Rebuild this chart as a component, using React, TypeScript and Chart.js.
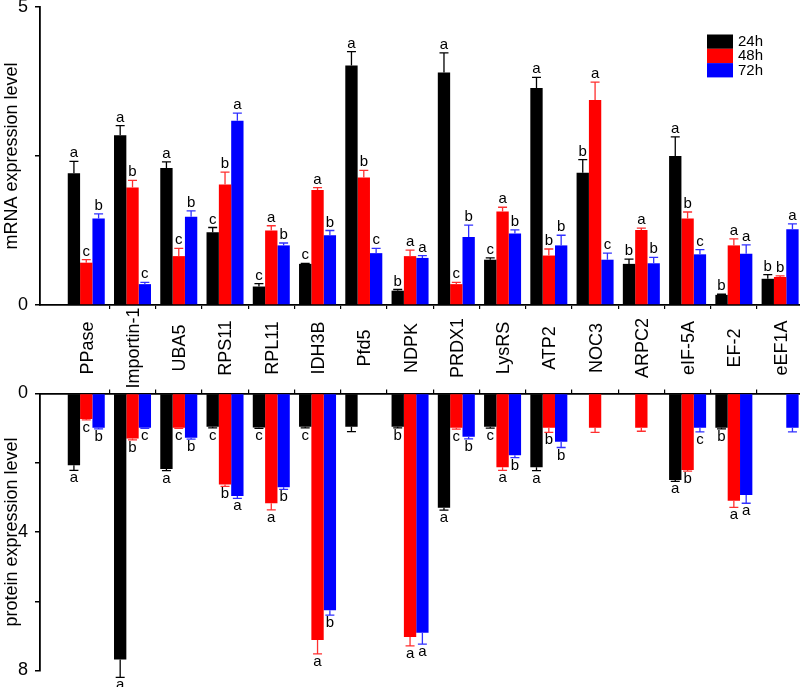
import React, { useEffect, useRef } from 'react';
import { Chart, registerables } from 'chart.js';

Chart.register(...registerables);

const FONT = '"Liberation Sans", Arial, sans-serif';

const categories = ['PPase', 'Importin-1', 'UBA5', 'RPS11', 'RPL11', 'IDH3B', 'Pfd5', 'NDPK', 'PRDX1', 'LysRS', 'ATP2', 'NOC3', 'ARPC2', 'eIF-5A', 'EF-2', 'eEF1A'];
const seriesLabels = ['24h', '48h', '72h'];
const seriesColors = ['#000000', '#ff0000', '#0000ff'];
const errColors = ['#000000', '#ff2f2f', '#3030ff'];

// mRNA expression level
const mrna24 = [2.21, 2.85, 2.30, 1.22, 0.31, 0.69, 4.02, 0.24, 3.90, 0.76, 3.64, 2.22, 0.69, 2.50, 0.17, 0.44];
const mrna24Err = [0.20, 0.16, 0.10, 0.08, 0.05, 0.01, 0.23, 0.02, 0.33, 0.03, 0.18, 0.22, 0.08, 0.32, 0.01, 0.07];
const mrna48 = [0.71, 1.97, 0.82, 2.02, 1.25, 1.93, 2.14, 0.82, 0.35, 1.57, 0.83, 3.44, 1.26, 1.45, 1.00, 0.47];
const mrna48Err = [0.05, 0.12, 0.13, 0.21, 0.08, 0.04, 0.12, 0.10, 0.03, 0.07, 0.11, 0.30, 0.03, 0.11, 0.11, 0.02];
const mrna72 = [1.45, 0.35, 1.48, 3.09, 1.00, 1.17, 0.87, 0.79, 1.14, 1.20, 1.00, 0.76, 0.70, 0.85, 0.86, 1.27];
const mrna72Err = [0.08, 0.03, 0.10, 0.13, 0.04, 0.08, 0.08, 0.04, 0.20, 0.06, 0.17, 0.11, 0.10, 0.08, 0.15, 0.09];
const mrna24Letters = ['a', 'a', 'a', 'c', 'c', 'c', 'a', 'b', 'a', 'c', 'a', 'b', 'b', 'a', 'b', 'b'];
const mrna48Letters = ['c', 'b', 'c', 'b', 'a', 'a', 'b', 'a', 'c', 'a', 'b', 'a', 'a', 'b', 'a', 'b'];
const mrna72Letters = ['b', 'c', 'b', 'a', 'b', 'b', 'c', 'a', 'b', 'b', 'b', 'c', 'b', 'c', 'a', 'a'];

// protein expression level
const prot24 = [2.07, 7.68, 2.18, 0.96, 0.98, 0.96, 0.96, 0.96, 3.30, 0.96, 2.13, null, null, 2.50, 0.99, null];
const prot24Err = [0.15, 0.52, 0.05, 0.03, 0.03, 0.03, 0.14, 0.03, 0.07, 0.04, 0.10, null, null, 0.04, 0.03, null];
const prot48 = [0.74, 1.30, 0.99, 2.63, 3.17, 7.12, null, 7.03, 0.99, 2.13, 0.99, 0.99, 0.99, 2.21, 3.10, null];
const prot48Err = [0.02, 0.04, 0.02, 0.05, 0.19, 0.40, null, 0.26, 0.04, 0.09, 0.13, 0.13, 0.10, 0.03, 0.19, null];
const prot72 = [0.99, 0.99, 1.28, 2.96, 2.71, 6.26, null, 6.91, 1.25, 1.78, 1.39, null, null, 0.99, 2.93, 0.99];
const prot72Err = [0.03, 0.02, 0.04, 0.07, 0.06, 0.14, null, 0.33, 0.06, 0.07, 0.17, null, null, 0.12, 0.24, 0.12];
const prot24Letters = ['a', 'a', 'a', 'c', 'c', 'c', '', 'b', 'a', 'c', 'a', '', '', 'a', 'b', ''];
const prot48Letters = ['c', 'b', 'c', 'b', 'a', 'a', '', 'a', 'c', 'a', 'b', '', '', 'b', 'a', ''];
const prot72Letters = ['b', 'c', 'b', 'a', 'b', 'b', '', 'a', 'b', 'b', 'b', '', '', 'c', 'a', ''];

const mrnaTicks = [0, 2.5, 5];
const protTicks = [0, 2, 4, 6, 8];
const mrnaTickLabels = ['0', '', '5'];
const protTickLabels = ['0', '', '4', '', '8'];

const X_MAX = 16.43;
const boundaryTicks = categories.slice(1).map((_, i) => i + 1.5);

function toPoints(vals: (number | null)[]) {
  return vals.map((v, i) => ({ x: i + 1, y: v }));
}

function makeAnnotPlugin(errs: (number | null)[][], letters: string[][], below: boolean) {
  return {
    id: 'errLetters' + (below ? 'B' : 'T'),
    afterDatasetsDraw(chart: any) {
      const ctx = chart.ctx;
      const ys = chart.scales.y;
      chart.data.datasets.forEach((ds: any, di: number) => {
        const meta = chart.getDatasetMeta(di);
        meta.data.forEach((el: any, i: number) => {
          const v = ds.data[i].y;
          if (v == null) return;
          const e = errs[di][i] ?? 0;
          const x = el.x;
          const y0 = ys.getPixelForValue(v);
          const y1 = ys.getPixelForValue(v + e);
          ctx.save();
          ctx.strokeStyle = errColors[di];
          ctx.lineWidth = 1.3;
          ctx.beginPath();
          ctx.moveTo(x, y0);
          ctx.lineTo(x, y1);
          ctx.moveTo(x - 4.5, y1);
          ctx.lineTo(x + 4.5, y1);
          ctx.stroke();
          const L = letters[di][i];
          if (L) {
            ctx.fillStyle = '#000';
            ctx.font = `15px ${FONT}`;
            ctx.textAlign = 'center';
            ctx.textBaseline = 'alphabetic';
            ctx.fillText(L, x, below ? y1 + 12 : y1 - 4);
          }
          ctx.restore();
        });
      });
    },
  };
}

const categoryLabelPlugin = {
  id: 'catLabels',
  afterDraw(chart: any) {
    const ctx = chart.ctx;
    const xs = chart.scales.x;
    ctx.save();
    ctx.fillStyle = '#000';
    ctx.font = `18px ${FONT}`;
    ctx.textAlign = 'center';
    ctx.textBaseline = 'middle';
    categories.forEach((c, i) => {
      const x = xs.getPixelForValue(i + 1) + 1.5;
      ctx.save();
      ctx.translate(x, 348);
      ctx.rotate(-Math.PI / 2);
      ctx.fillText(c, 0, 0);
      ctx.restore();
    });
    ctx.restore();
  },
};

const legendPlugin = {
  id: 'customLegend',
  afterDraw(chart: any) {
    const ctx = chart.ctx;
    ctx.save();
    chart.data.datasets.forEach((ds: any, i: number) => {
      const top = 34.5 + i * 14.3;
      ctx.fillStyle = ds.backgroundColor;
      ctx.fillRect(707, top, 26, 14.3);
      ctx.fillStyle = '#000';
      ctx.font = `15px ${FONT}`;
      ctx.textAlign = 'left';
      ctx.textBaseline = 'middle';
      ctx.fillText(ds.label, 738, top + 7.5);
    });
    ctx.restore();
  },
};

function zeroPad(s: any) {
  s.paddingTop = 0;
  s.paddingBottom = 0;
  s.paddingLeft = 0;
  s.paddingRight = 0;
}

function xScale(position: 'top' | 'bottom', height: number) {
  return {
    type: 'linear',
    position,
    min: 0,
    max: X_MAX,
    offset: false,
    afterBuildTicks: (s: any) => {
      s.ticks = boundaryTicks.map((v) => ({ value: v }));
    },
    ticks: { display: false },
    grid: { display: true, offset: false, drawOnChartArea: false, drawTicks: true, tickLength: 4, color: '#000', lineWidth: 1.2 },
    border: { display: true, color: '#000', width: 1.8 },
    afterFit: (s: any) => {
      s.height = height;
      zeroPad(s);
    },
  };
}

function yScale(title: string, max: number, ticks: number[], labels: string[], reverse: boolean) {
  return {
    type: 'linear',
    position: 'left',
    min: 0,
    max,
    reverse,
    afterBuildTicks: (s: any) => {
      s.ticks = ticks.map((v) => ({ value: v }));
    },
    ticks: {
      callback: (v: number) => {
        const idx = ticks.indexOf(v);
        return idx >= 0 ? labels[idx] : '';
      },
      font: { family: FONT, size: 18 },
      color: '#000',
      padding: 7,
    },
    grid: { display: true, drawOnChartArea: false, drawTicks: true, tickLength: 5, color: '#000', lineWidth: 1.5 },
    border: { display: true, color: '#000', width: 1.8 },
    title: { display: true, text: title, font: { family: FONT, size: 18 }, color: '#000', padding: { top: 1, bottom: 0 } },
    afterFit: (s: any) => {
      s.width = 40;
      zeroPad(s);
    },
  };
}

function makeDatasets(series: (number | null)[][]) {
  return seriesLabels.map((label, i) => ({
    label,
    data: toPoints(series[i]),
    backgroundColor: seriesColors[i],
    borderWidth: 0,
    categoryPercentage: 0.8,
    barPercentage: 1.0,
  }));
}

export default function App() {
  const topRef = useRef<HTMLCanvasElement | null>(null);
  const botRef = useRef<HTMLCanvasElement | null>(null);

  useEffect(() => {
    const top = new Chart(topRef.current as HTMLCanvasElement, {
      type: 'bar',
      data: { datasets: makeDatasets([mrna24, mrna48, mrna72]) as any },
      options: {
        responsive: false,
        animation: false,
        layout: { padding: { top: 7, right: 0, bottom: 0, left: 0 } },
        plugins: { legend: { display: false }, tooltip: { enabled: false } },
        scales: {
          x: xScale('bottom', 85) as any,
          y: yScale('mRNA expression level', 5, mrnaTicks, mrnaTickLabels, false) as any,
        },
      },
      plugins: [
        makeAnnotPlugin([mrna24Err, mrna48Err, mrna72Err], [mrna24Letters, mrna48Letters, mrna72Letters], false),
        categoryLabelPlugin,
        legendPlugin,
      ],
    });
    const bot = new Chart(botRef.current as HTMLCanvasElement, {
      type: 'bar',
      data: { datasets: makeDatasets([prot24, prot48, prot72]) as any },
      options: {
        responsive: false,
        animation: false,
        layout: { padding: { top: 0, right: 0, bottom: 16.5, left: 0 } },
        plugins: { legend: { display: false }, tooltip: { enabled: false } },
        scales: {
          x: xScale('top', 13.5) as any,
          y: yScale('protein expression level', 8, protTicks, protTickLabels, true) as any,
        },
      },
      plugins: [makeAnnotPlugin([prot24Err, prot48Err, prot72Err], [prot24Letters, prot48Letters, prot72Letters], true)],
    });
    return () => {
      top.destroy();
      bot.destroy();
    };
  }, []);

  return (
    <div style={{ position: 'absolute', left: 0, top: 0, width: 800, height: 687, background: '#fff' }}>
      <canvas ref={topRef} width={800} height={390} style={{ position: 'absolute', left: 0, top: 0 }} />
      <canvas ref={botRef} width={800} height={307} style={{ position: 'absolute', left: 0, top: 380 }} />
    </div>
  );
}
